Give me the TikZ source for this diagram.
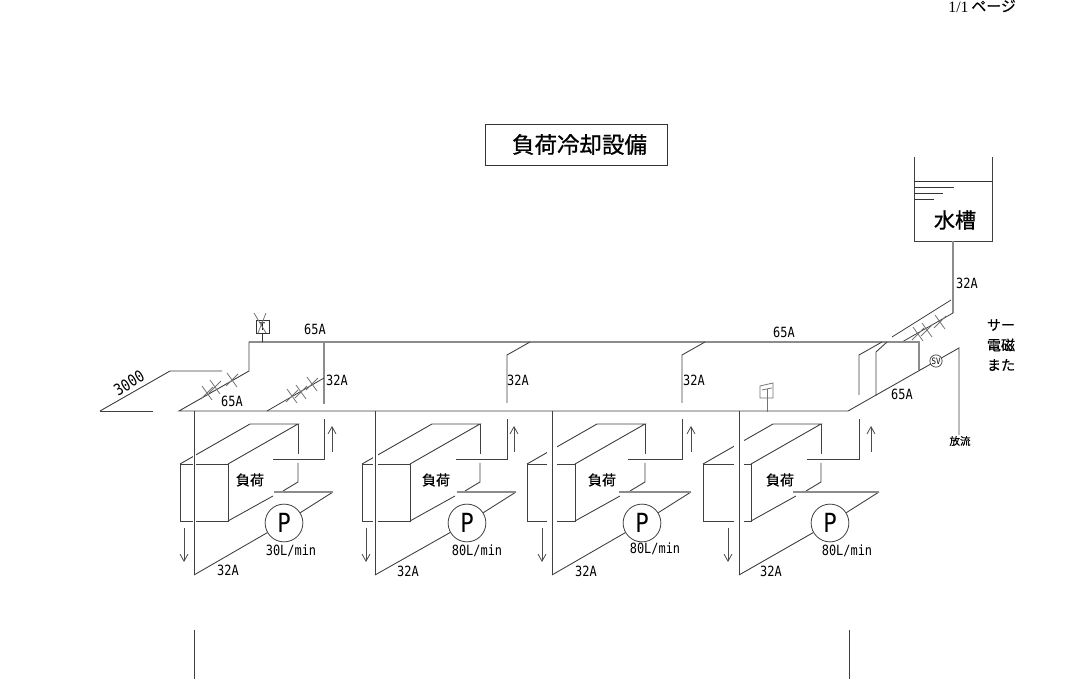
\documentclass[tikz,border=0pt]{standalone}
\usepackage{fontspec}
\usetikzlibrary{arrows.meta}
\newfontfamily\cjkfont[FakeBold=0.3]{Noto Sans CJK JP}
\newfontfamily\titlefont[FakeBold=0.8]{Noto Sans CJK JP}
\newfontfamily\sizefont[FakeStretch=0.85]{DejaVu Sans Mono}
\newfontfamily\pagefont{Liberation Serif}
\tikzset{
	pipe/.style={draw=black!75,line width=0.5pt},
	main/.style={draw=black!45,line width=1.1pt},
	thin/.style={draw=black!80,line width=0.42pt},
	halo/.style={draw=white},
	flow/.style={draw=black!70,line width=0.45pt,-{Straight Barb[length=4pt,width=4.5pt]}},
	valve/.style={draw=black!55,line width=0.45pt},
	size/.style={inner sep=0pt,font=\sizefont\fontsize{8}{8}\selectfont},
	jlab/.style={inner sep=0pt,font=\cjkfont\fontsize{8}{8}\selectfont},
	pump/.style={circle,draw=black!75,line width=0.45pt,fill=white,minimum size=21.5pt,inner sep=0pt,font=\sizefont\fontsize{15}{15}\selectfont}
}
\begin{document}
\begin{tikzpicture}[x=0.02cm,y=-0.02cm]
	\useasboundingbox (0,0) rectangle (1076,688);
	% heading
	\node[inner sep=0pt,anchor=west,font=\pagefont\fontsize{9}{9}\selectfont] (pageno) at (948,7) {1/1};
	\node[jlab,anchor=west,font=\cjkfont\fontsize{8.5}{8.5}\selectfont] (pagejp) at (971,6) {ページ};
	\node[thin,draw,minimum width=182*0.5691pt,minimum height=41*0.5691pt,inner sep=0pt,font=\titlefont\fontsize{12.8}{12.8}\selectfont] (title) at (576,144.5) {\hspace*{4pt}負荷冷却設備};
	% tank
	\draw[pipe] (914,157) -- (914,241) -- (992,241) -- (992,157);
	\draw[thin] (914,181) -- (992,181);
	\draw[thin] (914,187) -- (954,187);
	\draw[thin] (914,193) -- (943,193);
	\draw[thin] (914,199) -- (934,199);
	\node[jlab,font=\titlefont\fontsize{12}{12}\selectfont] (tank) at (955,220) {水槽};
	\draw[main,line width=0.8pt] (953,241) -- (953,313);
	\draw[thin] (953,313) -- (902,342);
	\draw[thin] (951,300) -- (892,337);
	% header lines
	\draw[main] (249,342) -- (919,342) -- (919,370);
	\draw[pipe] (249,342) -- (249,371) -- (179,411) -- (848,411) -- (959,348) -- (959,435);
	\draw[pipe] (100,411) -- (153,411);
	\draw[pipe] (100,411) -- (170,371) -- (222,371);
	% 32A branches
	\draw[main,line width=0.8pt] (324,342) -- (324,404);
	\draw[thin] (324,378) -- (267,411);
	\foreach \rs/\re in {507/403,682/403,859/395}
		\draw[pipe] ({\rs+23},342) -- (\rs,355) -- (\rs,\re);
	\draw[pipe] (887,342) -- (876,352) -- (876,396);
	% valves
	\foreach \vx/\vy in {232/380,215/387,207/393,312/384,301/392,292/396,918/334,927/330,940/322} {
		\draw[valve] ({\vx-5},{\vy-7}) -- ({\vx+5},{\vy+7});
		\draw[valve] ({\vx-6},{\vy+6}) -- ({\vx+6},{\vy-6});
	}
	% load, pump and return of each circuit
	\foreach \bx/\rt/\pc/\rs/\ua/\da/\gw/\hs/\hl/\lb in {
		180/194/284/324/332/184/3/273/274/250,
		362/375/467/507/514/366/5/456/457/436,
		527/552/642/682/691/542/10/628/619/602,
		703/739/830/859/871/728/10/807/793/780} {
		\draw[pipe] (\bx,464) rectangle ({\bx+48},521);
		\draw[pipe] (\bx,464) -- ({\bx+70},424) -- ({\bx+118},424) -- ({\bx+48},464);
		\draw[pipe] ({\bx+118},424) -- ({\bx+118},454);
		\draw[pipe] ({\bx+118},463) -- ({\bx+118},482) -- ({\bx+103},491);
		\draw[pipe] ({\bx+93},496) -- ({\bx+48},521);
		\draw[halo,line width=\gw*0.5691pt] (\rt,420) -- (\rt,530);
		\draw[pipe] (\rt,411) -- (\rt,575);
		\node[pump] (pump\bx) at (\pc,523) {P};
		\draw[pipe] (\rt,575) -- (pump\bx);
		\draw[pipe] (pump\bx) -- ({\pc+49},492);
		\draw[main,line width=0.7pt] (\hl,492) -- ({\pc+49},492);
		\draw[pipe] (\hs,459) -- (\rs,459) -- (\rs,419);
		\draw[flow] (\ua,452) -- (\ua,426);
		\draw[flow] (\da,528) -- (\da,562);
		\node[jlab] (load\bx) at (\lb,480) {負荷};
	}
	% safety valve and gauges
	\node[draw=black!75,circle,line width=0.4pt,fill=white,minimum size=7pt,inner sep=0pt,font=\sizefont\fontsize{5}{5}\selectfont] (sv) at (936,361) {SV};
	\draw[thin,fill=white] (256,320) rectangle (269,333);
	\draw[thin] (262.5,333) -- (262.5,342);
	\node[inner sep=0pt,font=\sizefont\fontsize{6}{6}\selectfont] (therm) at (262.5,326.5) {T};
	\draw[valve] (254,313) -- (266,333);
	\draw[valve] (266,313) -- (258,333);
	\draw[valve] (760,386) -- (773,383) -- (773,398) -- (760,398) -- cycle;
	\draw[valve] (762,390) -- (772,388);
	\draw[valve] (767,389) -- (767,412);
	% pipe sizes
	\foreach \lx/\ly/\lt [count=\i] in {315/329/65A,784/332/65A,232/401/65A,902/394/65A,337/380/32A,518/380/32A,694/380/32A,967/283/32A,228/570/32A,408/571/32A,586/571/32A,771/571/32A,291/551/30L\slash min,477/551/80L\slash min,655/549/80L\slash min,847/551/80L\slash min}
		\node[size] (size\i) at (\lx,\ly) {\lt};
	\node[size,rotate=31,font=\sizefont\fontsize{9}{9}\selectfont] (height) at (129,383) {3000};
	\node[jlab,font=\cjkfont\fontsize{6}{6}\selectfont] (drain) at (960,441) {放流};
	% notes cut off at the edge
	\node[jlab] (note1) at (1001,325) {サー};
	\node[jlab] (note2) at (1001,345) {電磁};
	\node[jlab] (note3) at (1001,365) {また};
	% lower ends
	\draw[pipe] (194,630) -- (194,679);
	\draw[pipe] (849,630) -- (849,679);
\end{tikzpicture}
\end{document}
